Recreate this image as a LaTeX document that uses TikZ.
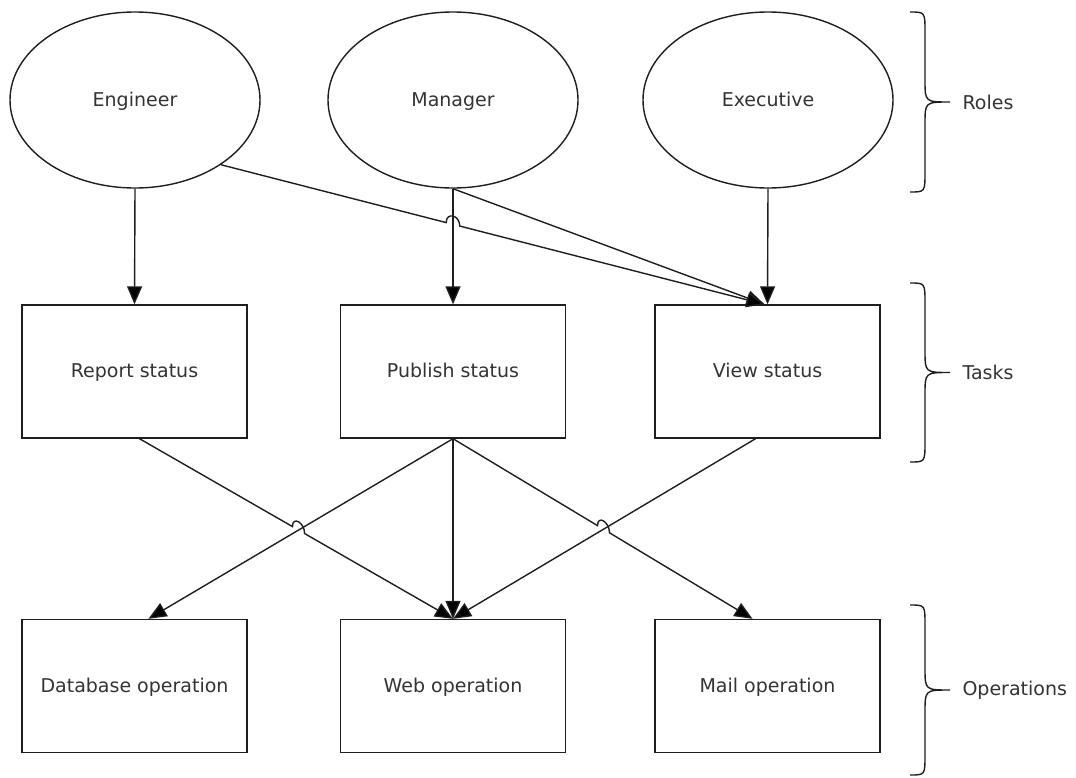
\documentclass[tikz,border=0pt]{standalone}
\usepackage{fontspec}
\setmainfont{DejaVu Sans}
\usetikzlibrary{shapes.geometric,arrows.meta,calc,intersections}
\definecolor{inkgray}{HTML}{333333}
\definecolor{linegray}{HTML}{1E1E1E}
\begin{document}
\begin{tikzpicture}[x=1pt,y=-1pt,
  every node/.style={text=inkgray,font=\fontsize{19}{23}\selectfont},
  role/.style={ellipse,draw=linegray,line width=1.4pt,inner sep=0pt,minimum width=250pt,minimum height=176pt,text height=16pt,text depth=4pt},
  task/.style={rectangle,draw=linegray,line width=1.4pt,minimum width=225pt,minimum height=133pt,text height=16pt,text depth=4pt},
  link/.style={draw=linegray,line width=1.4pt,-{Triangle[length=18pt,width=15pt,fill=black]}},
  brc/.style={draw=linegray,line width=1.4pt}]
\useasboundingbox (0,0) rectangle (1076,777);
\node[role] (eng) at (135,100) {Engineer};
\node[role] (mgr) at (453,100) {Manager};
\node[role] (exe) at (768,100) {Executive};
\node[task] (rep) at (134.5,371.5) {Report status};
\node[task] (pub) at (453,371.5) {Publish status};
\node[task] (view) at (767.5,371.5) {View status};
\node[task] (db) at (134.5,686) {Database operation};
\node[task] (web) at (453,686) {Web operation};
\node[task] (mail) at (767.5,686) {Mail operation};

\coordinate (vin) at ($(view.north)+(-3,0)$);
\coordinate (repout) at ($(rep.south)+(5,0)$);
\coordinate (dbin) at ($(db.north)+(14,0)$);
\coordinate (mailin) at ($(mail.north)+(-15,0)$);
\coordinate (viewout) at ($(view.south)+(-12,0)$);

% straight links
\draw[link] (eng.south) -- (rep.north);
\draw[link,name path=mp] (mgr.south) -- (pub.north);
\draw[link] (exe.south) -- (view.north);
\draw[link] (mgr.south) -- (vin);
\draw[link,name path=pd] (pub.south) -- (dbin);
\draw[link] (pub.south) -- (web.north);
\draw[link,name path=vw] (viewout) -- (web.north);

% links with a hop
\path[name path=ev] (eng.-37) -- (vin);
\path[name intersections={of=ev and mp,by=x1}];
\draw[link] (eng.-37) -- ($(x1)!7pt!(eng.-37)$) .. controls ($(x1)!7pt!(eng.-37)+(0,-11)$) and ($(x1)!7pt!(vin)+(0,-11)$) .. ($(x1)!7pt!(vin)$) -- (vin);
\path[name path=rw] (repout) -- (web.north);
\path[name intersections={of=rw and pd,by=x2}];
\draw[link] (repout) -- ($(x2)!7pt!(repout)$) .. controls ($(x2)!7pt!(repout)+(0,-11)$) and ($(x2)!7pt!(web.north)+(0,-11)$) .. ($(x2)!7pt!(web.north)$) -- (web.north);
\path[name path=pm] (pub.south) -- (mailin);
\path[name intersections={of=pm and vw,by=x3}];
\draw[link] (pub.south) -- ($(x3)!7pt!(pub.south)$) .. controls ($(x3)!7pt!(pub.south)+(0,-11)$) and ($(x3)!7pt!(mailin)+(0,-11)$) .. ($(x3)!7pt!(mailin)$) -- (mailin);

% braces
\foreach \ya/\yb/\nm/\txt in {12/192/roles/Roles,283/462/tasks/Tasks,605/775/ops/Operations}{
  \pgfmathsetmacro\ym{(\ya+\yb)/2}
  \draw[brc] (910,\ya) .. controls (925,\ya) .. (925,\ya+20) -- (925,\ym-22) .. controls (925,\ym) .. (950,\ym)
    .. controls (925,\ym) .. (925,\ym+22) -- (925,\yb-20) .. controls (925,\yb) .. (910,\yb);
  \node[anchor=west] (\nm) at (959,\ym) {\txt};
}
\end{tikzpicture}
\end{document}
